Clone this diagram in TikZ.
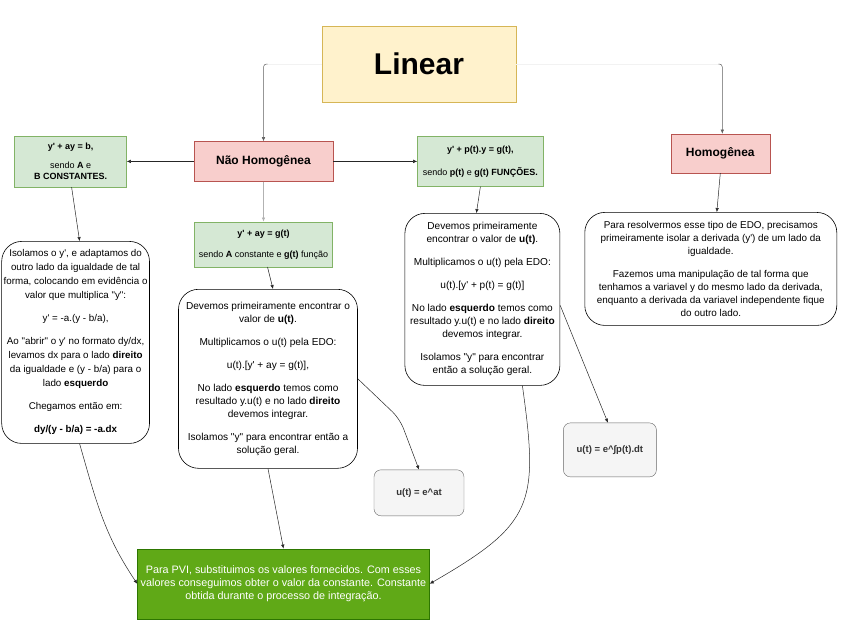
\documentclass[tikz,border=0pt]{standalone}
\usepackage{fontspec}
\setmainfont{Liberation Sans}[Ligatures=TeXOff]
\usepackage{xcolor}
\usetikzlibrary{arrows.meta, positioning, calc}

\definecolor{titlefill}{HTML}{FFF2CC}
\definecolor{titledraw}{HTML}{D6B656}
\definecolor{redfill}{HTML}{F8CECC}
\definecolor{reddraw}{HTML}{B85450}
\definecolor{greenfill}{HTML}{D5E8D4}
\definecolor{greendraw}{HTML}{82B366}
\definecolor{greyfill}{HTML}{F5F5F5}
\definecolor{greydraw}{HTML}{666666}
\definecolor{greytext}{HTML}{333333}
\definecolor{pvifill}{HTML}{60A917}
\definecolor{pvidraw}{HTML}{2D7600}

\begin{document}
\begin{tikzpicture}[
    node distance=40pt and 60pt,
    every node/.style={align=center, inner sep=2pt},
    title/.style={rectangle, draw=titledraw, fill=titlefill, minimum width=194pt, minimum height=76pt, font=\fontsize{30}{36}\selectfont\bfseries},
    typebox/.style={rectangle, draw=reddraw, fill=redfill, minimum height=40pt, font=\fontsize{12}{14}\selectfont\bfseries},
    eqbox/.style={rectangle, draw=greendraw, fill=greenfill, font=\fontsize{9}{11}\selectfont},
    notebox/.style={rectangle, draw=black, line width=0.6pt, fill=white, rounded corners=20pt, font=\fontsize{10.1}{13}\selectfont},
    resultbox/.style={rectangle, draw=greydraw, fill=greyfill, rounded corners=7pt, text=greytext, font=\fontsize{9.5}{11}\selectfont\bfseries},
    pvibox/.style={rectangle, draw=pvidraw, fill=pvifill, text=white, minimum width=292pt, minimum height=70pt, font=\fontsize{10.8}{13}\selectfont},
    arrow/.style={-{Latex[length=4pt, width=3.5pt]}, line width=0.5pt, draw=black!85},
    fadeline/.style={line width=1pt, draw=gray!10}
]
\useasboundingbox (0,0) rectangle (851pt,-622pt);

% Nodes
\node (linear) [title] at (419pt,-64pt) {Linear};
\node (nh) [typebox, minimum width=139pt, below=39pt of linear, xshift=-155.5pt] {Não Homogênea};
\node (lg) [eqbox, minimum width=112pt, minimum height=51pt, left=67pt of nh] {\textbf{y' + ay = b,}\\[8pt] sendo \textbf{A} e\\ \textbf{B CONSTANTES.}};
\node (rg) [eqbox, minimum width=126pt, minimum height=50pt, right=84pt of nh] {\textbf{y' + p(t).y = g(t),}\\[12pt] sendo \textbf{p(t)} e \textbf{g(t) FUNÇÕES.}};
\node (hom) [typebox, minimum width=99pt, minimum height=39pt, right=127pt of rg, yshift=8pt] {Homogênea};
\node (mg) [eqbox, minimum width=138pt, minimum height=45pt, below=40pt of nh] {\textbf{y' + ay = g(t)}\\[10pt] sendo \textbf{A} constante e \textbf{g(t)} função};

% Explanations
\node (lb) [notebox, minimum width=146pt, minimum height=202pt, below=54pt of lg, xshift=5pt, font=\fontsize{9.8}{14}\selectfont] {Isolamos o y', e adaptamos do\\ outro lado da igualdade de tal\\ forma, colocando em evidência o\\ valor que multiplica "y":\\[9pt] y' = -a.(y - b/a),\\[9pt] Ao "abrir" o y' no formato dy/dx,\\ levamos dx para o lado \textbf{direito}\\ da igualdade e (y - b/a) para o\\ lado \textbf{esquerdo}\\[9pt] Chegamos então em:\\[9pt] \textbf{dy/(y - b/a) = -a.dx}};
\node (mb) [notebox, minimum width=179pt, minimum height=179pt, below=22pt of mg, xshift=4.5pt] {Devemos primeiramente encontrar o\\ valor de \textbf{u(t)}.\\[10pt] Multiplicamos o u(t) pela EDO:\\[10pt] u(t).[y' + ay = g(t)],\\[10pt] No lado \textbf{esquerdo} temos como\\ resultado y.u(t) e no lado \textbf{direito}\\ devemos integrar.\\[10pt] Isolamos "y" para encontrar então a\\ solução geral.};
\node (rb) [notebox, minimum width=155pt, minimum height=172pt, below=26.5pt of rg, xshift=2pt] {Devemos primeiramente\\ encontrar o valor de \textbf{u(t)}.\\[10pt] Multiplicamos o u(t) pela EDO:\\[10pt] u(t).[y' + p(t) = g(t)]\\[10pt] No lado \textbf{esquerdo} temos como\\ resultado y.u(t) e no lado \textbf{direito}\\ devemos integrar.\\[10pt] Isolamos "y" para encontrar\\ então a solução geral.};
\node (homb) [notebox, minimum width=252pt, minimum height=113pt, below=39pt of hom, xshift=-9.5pt, font=\fontsize{9.9}{13}\selectfont] {Para resolvermos esse tipo de EDO, precisamos\\ primeiramente isolar a derivada (y') de um lado da\\ igualdade.\\[10pt] Fazemos uma manipulação de tal forma que\\ tenhamos a variavel y do mesmo lado da derivada,\\ enquanto a derivada da variavel independente fique\\ do outro lado.};

% Results
\node (eat) [resultbox, minimum width=90pt, minimum height=46pt, below right=1pt and 16pt of mb.south east] {u(t) = e\textasciicircum at};
\node (int) [resultbox, minimum width=93pt, minimum height=54pt, below right=37pt and 3pt of rb.south east] {u(t) = e\textasciicircum ∫p(t).dt};
\node (pvi) [pvibox, below=80pt of mb, xshift=15.5pt] {Para PVI, substituimos os valores fornecidos. Com esses\\ valores conseguimos obter o valor da constante. Constante\\ obtida durante o processo de integração.};

% Arrows
\coordinate (lcorner) at (nh.north |- linear.west);
\coordinate (rcorner) at ([xshift=2pt]hom.north |- linear.west);
\draw [fadeline] (linear.west) -- ([xshift=4pt]lcorner);
\draw [fadeline] (linear.east) -- ([xshift=-4pt]rcorner);
\draw [arrow, draw=gray!75!black, rounded corners=3pt] ([xshift=4pt]lcorner) -- (lcorner) -- (nh.north);
\draw [arrow, draw=gray!75!black, rounded corners=3pt] ([xshift=-4pt]rcorner) -- (rcorner) -- ([xshift=2pt]hom.north);

\draw [arrow] (nh.west) -- (lg.east);
\draw [arrow] (nh.east) -- (rg.west);
\draw [arrow, draw=gray!60] (nh.south) -- (mg.north);

\draw [arrow] ([xshift=1pt]lg.south) -- ([xshift=4pt]lb.north);
\draw [arrow] ([xshift=4pt]mg.south) -- ([xshift=5pt]mb.north);
\draw [arrow] (rg.south) -- ([xshift=-6pt]rb.north);
\draw [arrow] (hom.south) -- ([xshift=6pt]homb.north);

\draw [arrow, rounded corners=10pt] (mb.east) -- ++(42pt,-40pt) -- (eat.north);
\draw [arrow] ([yshift=-6pt]rb.east) -- ([xshift=-2pt]int.north);

% Into PVI
\draw [arrow] ([xshift=4pt]lb.south) to [out=-74, in=124] (pvi.west);
\draw [arrow] (mb.south) -- (pvi.north);
\draw [arrow] ([xshift=40pt]rb.south) to [out=-82, in=30, looseness=1.4] (pvi.east);

\end{tikzpicture}
\end{document}
